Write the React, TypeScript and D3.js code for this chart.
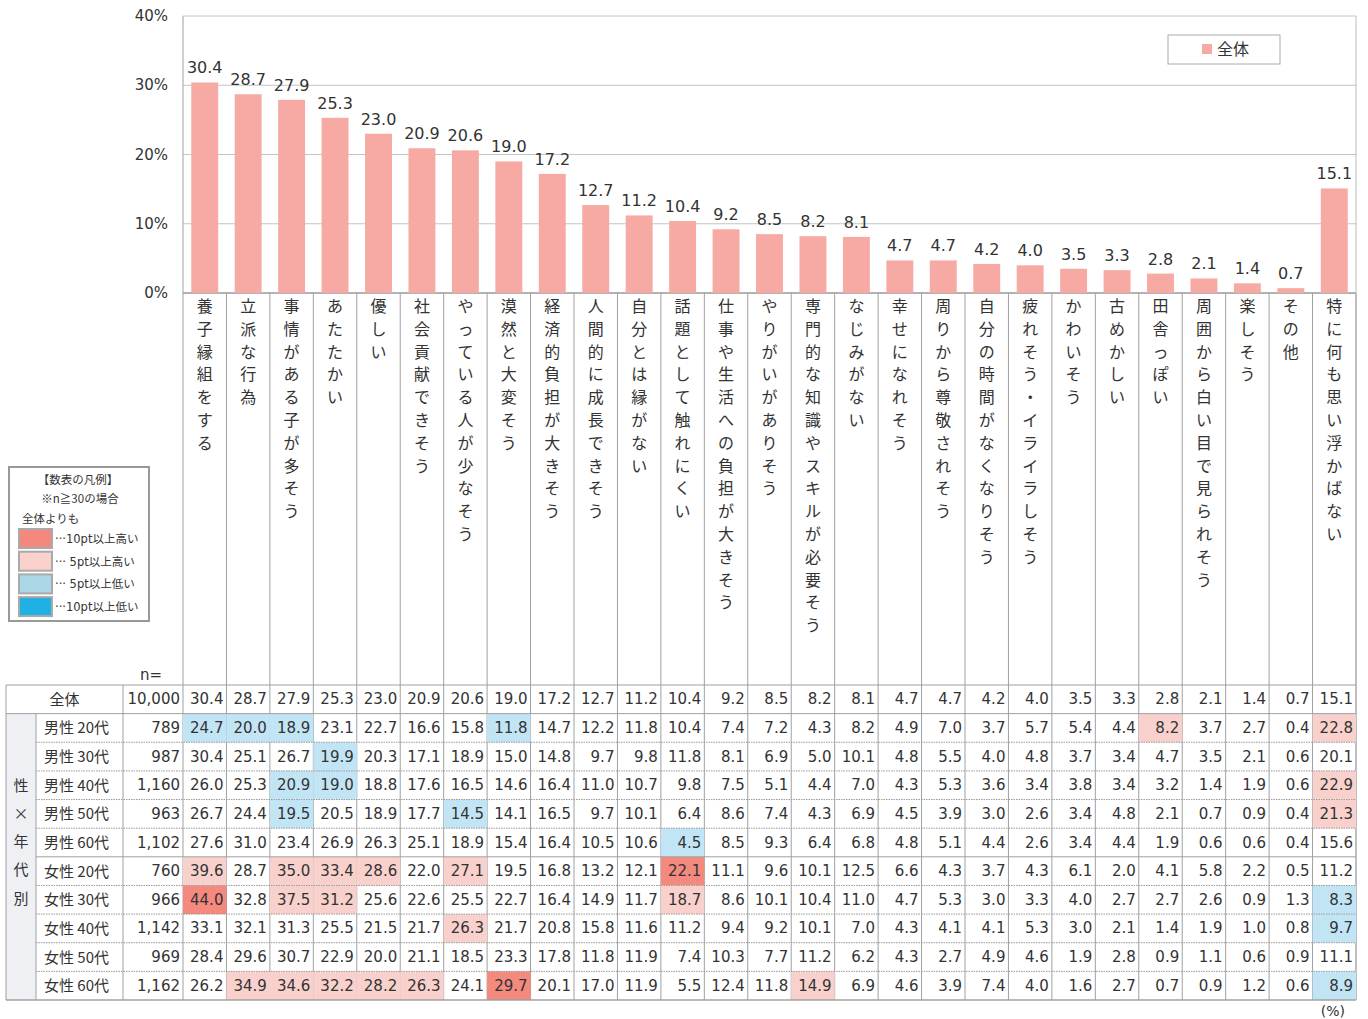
import * as d3 from "d3";

const categories = [
  "養子縁組をする", "立派な行為", "事情がある子が多そう", "あたたかい", "優しい",
  "社会貢献できそう", "やっている人が少なそう", "漠然と大変そう", "経済的負担が大きそう",
  "人間的に成長できそう", "自分とは縁がない", "話題として触れにくい",
  "仕事や生活への負担が大きそう", "やりがいがありそう", "専門的な知識やスキルが必要そう",
  "なじみがない", "幸せになれそう", "周りから尊敬されそう", "自分の時間がなくなりそう",
  "疲れそう・イライラしそう", "かわいそう", "古めかしい", "田舎っぽい",
  "周囲から白い目で見られそう", "楽しそう", "その他", "特に何も思い浮かばない",
];

const totalValues = [30.4, 28.7, 27.9, 25.3, 23.0, 20.9, 20.6, 19.0, 17.2, 12.7, 11.2, 10.4, 9.2, 8.5, 8.2, 8.1, 4.7, 4.7, 4.2, 4.0, 3.5, 3.3, 2.8, 2.1, 1.4, 0.7, 15.1];
const totalN = 10000;

const groupLabels = ["男性 20代", "男性 30代", "男性 40代", "男性 50代", "男性 60代", "女性 20代", "女性 30代", "女性 40代", "女性 50代", "女性 60代"];
const groupN = [789, 987, 1160, 963, 1102, 760, 966, 1142, 969, 1162];
const groupValues = [
  [24.7, 20.0, 18.9, 23.1, 22.7, 16.6, 15.8, 11.8, 14.7, 12.2, 11.8, 10.4, 7.4, 7.2, 4.3, 8.2, 4.9, 7.0, 3.7, 5.7, 5.4, 4.4, 8.2, 3.7, 2.7, 0.4, 22.8],
  [30.4, 25.1, 26.7, 19.9, 20.3, 17.1, 18.9, 15.0, 14.8, 9.7, 9.8, 11.8, 8.1, 6.9, 5.0, 10.1, 4.8, 5.5, 4.0, 4.8, 3.7, 3.4, 4.7, 3.5, 2.1, 0.6, 20.1],
  [26.0, 25.3, 20.9, 19.0, 18.8, 17.6, 16.5, 14.6, 16.4, 11.0, 10.7, 9.8, 7.5, 5.1, 4.4, 7.0, 4.3, 5.3, 3.6, 3.4, 3.8, 3.4, 3.2, 1.4, 1.9, 0.6, 22.9],
  [26.7, 24.4, 19.5, 20.5, 18.9, 17.7, 14.5, 14.1, 16.5, 9.7, 10.1, 6.4, 8.6, 7.4, 4.3, 6.9, 4.5, 3.9, 3.0, 2.6, 3.4, 4.8, 2.1, 0.7, 0.9, 0.4, 21.3],
  [27.6, 31.0, 23.4, 26.9, 26.3, 25.1, 18.9, 15.4, 16.4, 10.5, 10.6, 4.5, 8.5, 9.3, 6.4, 6.8, 4.8, 5.1, 4.4, 2.6, 3.4, 4.4, 1.9, 0.6, 0.6, 0.4, 15.6],
  [39.6, 28.7, 35.0, 33.4, 28.6, 22.0, 27.1, 19.5, 16.8, 13.2, 12.1, 22.1, 11.1, 9.6, 10.1, 12.5, 6.6, 4.3, 3.7, 4.3, 6.1, 2.0, 4.1, 5.8, 2.2, 0.5, 11.2],
  [44.0, 32.8, 37.5, 31.2, 25.6, 22.6, 25.5, 22.7, 16.4, 14.9, 11.7, 18.7, 8.6, 10.1, 10.4, 11.0, 4.7, 5.3, 3.0, 3.3, 4.0, 2.7, 2.7, 2.6, 0.9, 1.3, 8.3],
  [33.1, 32.1, 31.3, 25.5, 21.5, 21.7, 26.3, 21.7, 20.8, 15.8, 11.6, 11.2, 9.4, 9.2, 10.1, 7.0, 4.3, 4.1, 4.1, 5.3, 3.0, 2.1, 1.4, 1.9, 1.0, 0.8, 9.7],
  [28.4, 29.6, 30.7, 22.9, 20.0, 21.1, 18.5, 23.3, 17.8, 11.8, 11.9, 7.4, 10.3, 7.7, 11.2, 6.2, 4.3, 2.7, 4.9, 4.6, 1.9, 2.8, 0.9, 1.1, 0.6, 0.9, 11.1],
  [26.2, 34.9, 34.6, 32.2, 28.2, 26.3, 24.1, 29.7, 20.1, 17.0, 11.9, 5.5, 12.4, 11.8, 14.9, 6.9, 4.6, 3.9, 7.4, 4.0, 1.6, 2.7, 0.7, 0.9, 1.2, 0.6, 8.9],
];

const yTicks = [0, 10, 20, 30, 40];
const legendItems = ["···10pt以上高い", "···  5pt以上高い", "···  5pt以上低い", "···10pt以上低い"];

const BAR = "#f7aaa3";
const TEXT = "#333";
const LINE = "#a0a0a0";
const NUM_FONT = "'DejaVu Sans', 'Noto Sans CJK JP', sans-serif";
const JP_FONT = "'Noto Sans CJK JP', sans-serif";
const legendColors = ["#f4887d", "#fad1cc", "#aad8e6", "#1fb0e6"];
const cellColors = ["#f4897e", "#f9d1cc", "#c2e5f6", "#1fb0e6"];

// highlight vs 全体 (rounded diff, >5pt / >=10pt)
function cellFill(v: number, base: number) {
  const d = Math.round((v - base) * 10) / 10;
  if (d >= 10) return cellColors[0];
  if (d > 5) return cellColors[1];
  if (d <= -10) return cellColors[3];
  if (d < -5) return cellColors[2];
  return null;
}

export default function App() {
  const W = 1368, H = 1019;
  const left = 183, right = 1356;
  const x = d3.scaleBand<string>().domain(categories).range([left, right]).padding(0);
  const bw = x.bandwidth();
  const y = d3.scaleLinear().domain([0, 40]).range([293, 16]);
  const tableTop = 685, tableBottom = 1000;
  const rowKeys = ["全体", ...groupLabels];
  const row = d3.scaleBand<string>().domain(rowKeys).range([tableTop, tableBottom]);
  const rh = row.bandwidth();
  const fmt = d3.format(".1f");
  const fmtN = d3.format(",");
  const colX = [6, 36, 123, left];

  return (
    <svg width={W} height={H} style={{ position: "absolute", left: 0, top: 0, background: "#fff" }}>
      {/* grid */}
      {yTicks.map(t => (
        <g key={t}>
          <line x1={left} x2={right} y1={y(t)} y2={y(t)} stroke={t === 0 ? "#999" : "#c4c4c4"} strokeWidth={t === 0 ? 1.5 : 1} />
          <text x={168} y={y(t) + 5} textAnchor="end" fontSize={15} fontFamily={NUM_FONT} fill={TEXT}>{t}%</text>
        </g>
      ))}
      <line x1={left} x2={left} y1={16} y2={tableBottom} stroke={LINE} />
      <line x1={right} x2={right} y1={16} y2={tableBottom} stroke="#bbb" />

      {/* bars */}
      {categories.map((c, i) => (
        <g key={c}>
          <rect x={x(c)! + bw * 0.19} width={bw * 0.62} y={y(totalValues[i])} height={y(0) - y(totalValues[i])} fill={BAR} />
          <text x={x(c)! + bw / 2} y={y(totalValues[i]) - 9} textAnchor="middle" fontSize={16} fontFamily={NUM_FONT} fill={TEXT}>{fmt(totalValues[i])}</text>
        </g>
      ))}

      {/* vertical category labels */}
      {categories.map(c => (
        <g key={"l" + c}>
          {Array.from(c).map((ch, k) => (
            <text key={k} x={x(c)! + bw / 2} y={305 + k * 22.8} textAnchor="middle" dominantBaseline="central" fontSize={16} fontFamily={JP_FONT} fill={TEXT}>{ch}</text>
          ))}
        </g>
      ))}
      {categories.map(c => (
        <line key={"v" + c} x1={x(c)! + bw} x2={x(c)! + bw} y1={293} y2={tableBottom} stroke={LINE} />
      ))}

      {/* top legend */}
      <rect x={1168} y={35} width={112} height={29} fill="#fff" stroke="#aaa" />
      <rect x={1202} y={44} width={10} height={10} fill={BAR} />
      <text x={1217} y={55} fontSize={16} fontFamily={JP_FONT} fill={TEXT}>全体</text>

      {/* table cell fills */}
      {groupValues.map((vals, r) =>
        vals.map((v, i) => {
          const f = cellFill(v, totalValues[i]);
          return f ? <rect key={r + "-" + i} x={x(categories[i])!} y={row(groupLabels[r])!} width={bw} height={rh} fill={f} /> : null;
        })
      )}
      <rect x={colX[0]} y={row(groupLabels[0])!} width={colX[1] - colX[0]} height={tableBottom - row(groupLabels[0])!} fill="#eef0f4" />

      {/* table lines */}
      <line x1={colX[0]} x2={right} y1={tableTop} y2={tableTop} stroke={LINE} />
      <line x1={colX[0]} x2={right} y1={row(groupLabels[0])} y2={row(groupLabels[0])} stroke={LINE} />
      <line x1={colX[0]} x2={right} y1={tableBottom} y2={tableBottom} stroke={LINE} strokeWidth={1.5} />
      {groupLabels.slice(1).map(g => (
        <line key={"h" + g} x1={colX[1]} x2={right} y1={row(g)} y2={row(g)} stroke={g === "女性 20代" ? LINE : "#999"} strokeDasharray={g === "女性 20代" ? undefined : "1.5 1"} />
      ))}
      <line x1={colX[0]} x2={colX[0]} y1={tableTop} y2={tableBottom} stroke={LINE} />
      <line x1={colX[1]} x2={colX[1]} y1={row(groupLabels[0])} y2={tableBottom} stroke={LINE} />
      <line x1={colX[2]} x2={colX[2]} y1={tableTop} y2={tableBottom} stroke={LINE} />

      {/* table text */}
      <text x={140} y={680} fontSize={15} fontFamily={NUM_FONT} fill={TEXT}>n=</text>
      <text x={(colX[0] + colX[2]) / 2} y={row("全体")! + rh / 2 - 1} dominantBaseline="central" textAnchor="middle" fontSize={15} fontFamily={JP_FONT} fill={TEXT}>全体</text>
      <text x={left - 3} y={row("全体")! + rh / 2} dominantBaseline="central" textAnchor="end" fontSize={15} fontFamily={NUM_FONT} fill={TEXT}>{fmtN(totalN)}</text>
      {totalValues.map((v, i) => (
        <text key={"t" + i} x={x(categories[i])! + bw - 3} y={row("全体")! + rh / 2} dominantBaseline="central" textAnchor="end" fontSize={15} fontFamily={NUM_FONT} fill={TEXT}>{fmt(v)}</text>
      ))}
      {Array.from("性×年代別").map((ch, k) => (
        <text key={"g" + k} x={(colX[0] + colX[1]) / 2} y={784 + k * 28.3} dominantBaseline="central" textAnchor="middle" fontSize={15} fontFamily={JP_FONT} fill={TEXT}>{ch}</text>
      ))}
      {groupLabels.map((g, r) => (
        <g key={"r" + g}>
          <text x={44} y={row(g)! + rh / 2 - 1} dominantBaseline="central" fontSize={15} fontFamily={JP_FONT} fill={TEXT}>{g}</text>
          <text x={left - 3} y={row(g)! + rh / 2} dominantBaseline="central" textAnchor="end" fontSize={15} fontFamily={NUM_FONT} fill={TEXT}>{fmtN(groupN[r])}</text>
          {groupValues[r].map((v, i) => (
            <text key={i} x={x(categories[i])! + bw - 3} y={row(g)! + rh / 2} dominantBaseline="central" textAnchor="end" fontSize={15} fontFamily={NUM_FONT} fill={TEXT}>{fmt(v)}</text>
          ))}
        </g>
      ))}
      <text x={1345} y={1016} textAnchor="end" fontSize={14} fontFamily={NUM_FONT} fill={TEXT}>(%)</text>

      {/* table legend */}
      <rect x={9} y={467} width={140} height={154} fill="#fff" stroke="#999" strokeWidth={2} />
      <text x={78} y={484} textAnchor="middle" fontSize={11.5} fontFamily={JP_FONT} fill={TEXT}>【数表の凡例】</text>
      <text x={80} y={503} textAnchor="middle" fontSize={11.5} fontFamily={JP_FONT} fill={TEXT}>※n≧30の場合</text>
      <text x={22} y={523} fontSize={11.5} fontFamily={JP_FONT} fill={TEXT}>全体よりも</text>
      {legendItems.map((t, k) => (
        <g key={t}>
          <rect x={19} y={529 + k * 22.7} width={33} height={19} fill={legendColors[k]} stroke="#aaa" strokeWidth={2} />
          <text x={55} y={539 + k * 22.7} dominantBaseline="central" fontSize={11.5} fontFamily={NUM_FONT} fill={TEXT}>{t}</text>
        </g>
      ))}
    </svg>
  );
}
